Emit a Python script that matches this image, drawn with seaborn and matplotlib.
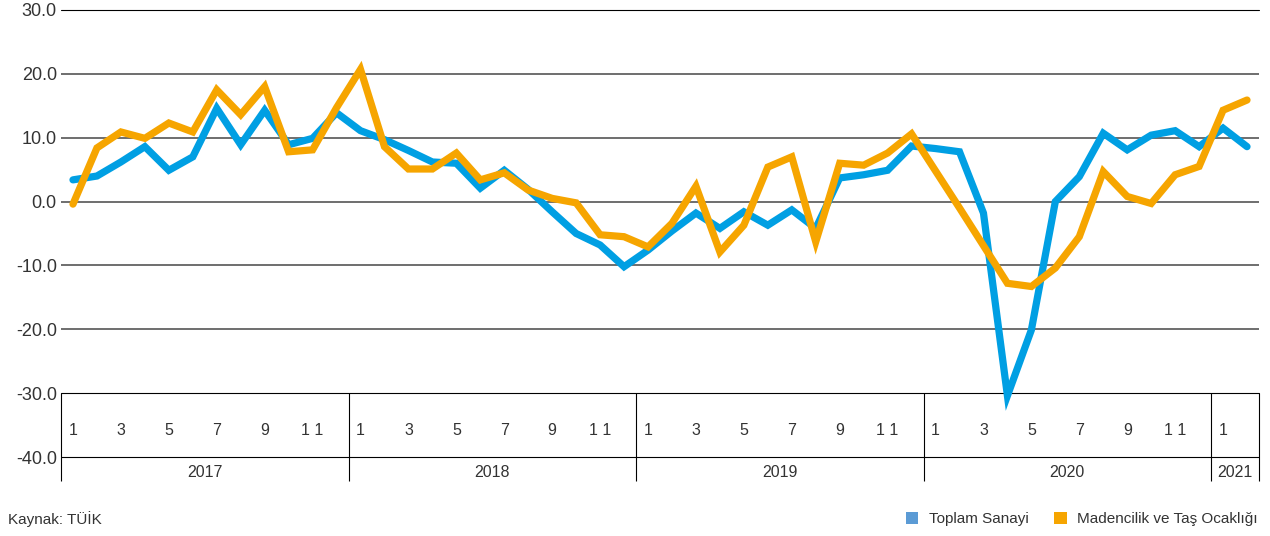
import numpy as np
import pandas as pd
import matplotlib.pyplot as plt
import seaborn as sns
from matplotlib.patches import Patch

# ---------------------------------------------------------------------------
# Data (annual % change, monthly, Jan 2017 - Feb 2021)
# ---------------------------------------------------------------------------
years = ["2017", "2018", "2019", "2020", "2021"]
months_per_year = [12, 12, 12, 12, 2]
shown_months = [1, 3, 5, 7, 9, 11]

toplam_sanayi = [
    3.4, 4.0, 6.2, 8.6, 4.9, 7.0, 14.6, 8.9, 14.3, 8.9, 9.9, 13.9,
    11.1, 9.7, 8.0, 6.2, 6.0, 2.1, 4.9, 1.9, -1.6, -5.0, -6.8, -10.2,
    -7.6, -4.6, -1.8, -4.2, -1.6, -3.7, -1.3, -4.2, 3.7, 4.2, 4.9, 8.7,
    8.3, 7.8, -1.8, -30.4, -20.1, 0.0, 3.9, 10.7, 8.1, 10.4, 11.1, 8.6,
    11.5, 8.6,
]
madencilik = [
    -0.4, 8.4, 10.9, 9.9, 12.3, 10.9, 17.5, 13.6, 18.0, 7.8, 8.1, 14.7,
    20.7, 8.6, 5.1, 5.1, 7.6, 3.4, 4.5, 1.8, 0.5, -0.2, -5.2, -5.5,
    -7.1, -3.4, 2.4, -7.9, -3.7, 5.4, 7.0, -6.3, 6.0, 5.7, 7.6, 10.6,
    4.8, -1.0, -6.9, -12.8, -13.3, -10.4, -5.5, 4.7, 0.8, -0.3, 4.2, 5.5,
    14.3, 15.9,
]
series_names = ["Toplam Sanayi", "Madencilik ve Taş Ocaklığı"]
y_ticks = [30, 20, 10, 0, -10, -20, -30, -40]

line_colors = ["#009FE3", "#F6A500"]
legend_colors = ["#5B9BD5", "#F6A500"]
text_color = "#333333"

# ---------------------------------------------------------------------------
# Long-form table
# ---------------------------------------------------------------------------
month_num = np.concatenate([np.arange(1, n + 1) for n in months_per_year])
idx = np.arange(len(month_num))
df = pd.concat([
    pd.DataFrame({"idx": idx, "value": toplam_sanayi, "series": series_names[0]}),
    pd.DataFrame({"idx": idx, "value": madencilik, "series": series_names[1]}),
])

sns.set_style("white")
plt.rcParams["font.family"] = ["Liberation Sans", "DejaVu Sans"]

fig = plt.figure(figsize=(12.7, 5.36), dpi=100)
ax = fig.add_axes([61 / 1270, 1 - 457 / 536, 1198 / 1270, 447 / 536])

# --- grid lines ---
for v in [30, -30, -40]:
    ax.axhline(v, color="black", lw=0.8, zorder=1, clip_on=False)
for v in [20, 10, 0, -10, -20]:
    ax.axhline(v, color="#6E6E6E", lw=1.4, zorder=1)

# --- series ---
sns.lineplot(
    data=df, x="idx", y="value", hue="series", hue_order=series_names,
    palette=line_colors, linewidth=5.2, legend=False, sort=False,
    ax=ax, zorder=3,
)
for line in ax.lines:
    line.set_solid_joinstyle("miter")
    line.set_solid_capstyle("round")

ax.set_xlim(-0.5, len(idx) - 0.5)
ax.set_ylim(-40, 30)
for s in ax.spines.values():
    s.set_visible(False)
ax.set_xlabel("")
ax.set_ylabel("")
ax.set_xticks([])
ax.set_yticks(y_ticks)
ax.set_yticklabels([f"{v:.1f}" for v in y_ticks], fontsize=13, color=text_color)
ax.tick_params(axis="y", length=0, pad=3)

# --- category axis drawn inside the -30 / -40 band ---
bounds = np.concatenate([[0], np.cumsum(months_per_year)]) - 0.5
ax.vlines(bounds, -43.8, -30, color="black", lw=0.8, clip_on=False, zorder=2)
for i, m in zip(idx, month_num):
    if m in shown_months:
        label = "1 1" if m == 11 else str(m)
        ax.text(i, -35.8, label, ha="center", va="center",
                fontsize=11.5, color=text_color)
for year, lo, hi in zip(years, bounds[:-1], bounds[1:]):
    ax.text((lo + hi) / 2, -42.5, year, ha="center", va="center",
            fontsize=11.5, color=text_color, clip_on=False)

# --- source & legend ---
fig.text(8 / 1270, 1 - 519 / 536, "Kaynak: TÜİK", ha="left", va="center",
         fontsize=11, color=text_color)
handles = [Patch(facecolor=c, edgecolor="none", label=n)
           for c, n in zip(legend_colors, series_names)]
fig.legend(
    handles=handles, loc="center right", ncol=2, frameon=False,
    bbox_to_anchor=(1258 / 1270, 1 - 519 / 536), borderaxespad=0,
    borderpad=0, handlelength=0.8, handleheight=0.8, handletextpad=0.7,
    columnspacing=1.7, fontsize=11, labelcolor=text_color,
)

fig.savefig("out.png", dpi=100)
